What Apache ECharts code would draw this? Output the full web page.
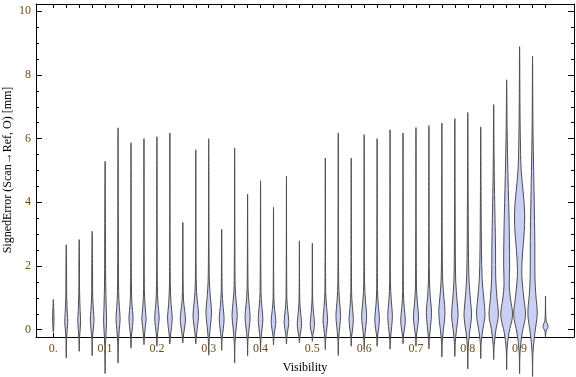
<!DOCTYPE html>
<html>
<head>
<meta charset="utf-8">
<script src="https://cdn.jsdelivr.net/npm/echarts@6/dist/echarts.min.js"></script>
<style>html,body{margin:0;padding:0;background:#fff}#c{width:576px;height:377px}</style>
</head>
<body>
<div id="c"></div>
<script>
// ---- data ----
var positions = [0, 0.025, 0.05, 0.075, 0.1, 0.125, 0.15, 0.175, 0.2, 0.225, 0.25, 0.275, 0.3, 0.325, 0.35, 0.375, 0.4, 0.425, 0.45, 0.475, 0.5, 0.525, 0.55, 0.575, 0.6, 0.625, 0.65, 0.675, 0.7, 0.725, 0.75, 0.775, 0.8, 0.825, 0.85, 0.875, 0.9, 0.925, 0.95];
var minVals = [-0.08, -0.89, -0.68, -0.82, -1.38, -1.05, -0.58, -0.47, -0.52, -0.45, -0.42, -0.45, -0.8, -0.65, -1.05, -0.82, -0.68, -0.48, -0.45, -0.42, -0.37, -0.63, -0.81, -0.52, -0.63, -0.52, -0.61, -0.44, -0.52, -0.6, -0.86, -0.84, -1.23, -0.91, -0.94, -1.26, -1.38, -1.47, -0.23];
var maxVals = [0.95, 2.67, 2.83, 3.09, 5.29, 6.34, 5.87, 6.0, 6.06, 6.18, 3.37, 5.65, 6.0, 3.16, 5.71, 4.26, 4.68, 3.85, 4.82, 2.79, 2.72, 5.39, 6.18, 5.39, 6.13, 6.0, 6.28, 6.18, 6.35, 6.41, 6.49, 6.63, 6.82, 6.37, 7.07, 7.85, 8.89, 8.59, 1.05];
// density profiles: [value, relative density] pairs
var bodies = [
  [[0.1,0.5],[0.4,0.7],[0.7,0.4]],
  [[-0.3,0.3],[0,1.0],[0.25,1.6],[0.5,1.2],[1.0,0.5],[2.0,0.3]],
  [[-0.3,0.3],[0,1.0],[0.3,1.5],[0.6,1.0],[1.2,0.4],[2.2,0.3]],
  [[-0.3,0.3],[0,1.2],[0.3,2.0],[0.6,1.4],[1.0,0.6],[2.0,0.4]],
  [[-0.5,0.4],[0,1.2],[0.3,1.6],[0.7,1.2],[1.5,0.6],[3,0.4]],
  [[-0.4,0.4],[0,1.3],[0.35,2.2],[0.7,1.4],[1.2,0.6],[3,0.3]],
  [[-0.2,0.5],[0.1,1.6],[0.4,2.2],[0.8,1.0],[1.5,0.4]],
  [[-0.2,0.5],[0.1,1.5],[0.35,2.3],[0.7,1.3],[1.3,0.4]],
  [[-0.2,0.5],[0.1,1.6],[0.4,2.4],[0.8,1.2],[1.4,0.4]],
  [[-0.2,0.6],[0.1,1.8],[0.4,2.5],[0.8,1.3],[1.5,0.4]],
  [[-0.2,0.6],[0.05,1.8],[0.3,2.8],[0.6,2.0],[0.9,0.8],[1.5,0.3]],
  [[-0.2,0.6],[0.1,1.8],[0.45,3.0],[0.8,2.0],[1.2,0.8],[2,0.3]],
  [[-0.3,0.5],[0.1,1.7],[0.55,3.0],[1.0,1.8],[1.5,0.7],[2.5,0.3]],
  [[-0.3,0.4],[0.05,1.8],[0.35,2.6],[0.7,1.6],[1.2,0.5]],
  [[-0.4,0.4],[0.05,1.6],[0.45,2.8],[0.9,1.6],[1.4,0.5]],
  [[-0.3,0.4],[0.05,1.7],[0.4,2.7],[0.8,1.6],[1.3,0.5]],
  [[-0.3,0.4],[0.05,1.7],[0.35,2.5],[0.7,1.5],[1.2,0.5]],
  [[-0.2,0.5],[0.05,1.8],[0.28,2.5],[0.6,1.4],[1.0,0.4]],
  [[-0.2,0.5],[0.05,1.8],[0.25,2.5],[0.6,1.4],[1.0,0.4]],
  [[-0.2,0.6],[0.0,1.8],[0.2,2.3],[0.5,1.4],[0.9,0.4]],
  [[-0.15,0.6],[0.0,1.7],[0.2,2.3],[0.5,1.4],[0.9,0.4]],
  [[-0.3,0.4],[0.05,1.6],[0.3,2.5],[0.7,1.4],[1.2,0.4]],
  [[-0.3,0.4],[0.1,1.6],[0.45,2.5],[0.9,1.3],[1.5,0.4]],
  [[-0.2,0.5],[0.05,1.6],[0.35,2.3],[0.7,1.3],[1.2,0.4]],
  [[-0.3,0.4],[0.1,1.8],[0.45,2.7],[0.9,1.4],[1.5,0.4]],
  [[-0.2,0.5],[0.05,1.7],[0.35,2.5],[0.75,1.3],[1.3,0.4]],
  [[-0.3,0.4],[0.1,1.7],[0.45,2.5],[0.9,1.3],[1.5,0.4]],
  [[-0.2,0.5],[0.05,1.7],[0.3,2.5],[0.7,1.3],[1.2,0.4]],
  [[-0.2,0.5],[0.1,1.8],[0.4,2.8],[0.85,1.5],[1.4,0.5]],
  [[-0.3,0.4],[0.1,1.7],[0.55,2.8],[1.0,1.5],[1.6,0.5],[2.5,0.3]],
  [[-0.4,0.4],[0.0,1.6],[0.3,2.8],[0.6,3.3],[1.0,2.2],[1.5,0.9],[2.5,0.4]],
  [[-0.4,0.5],[0.0,1.8],[0.45,3.5],[0.9,2.4],[1.5,1.0],[2.5,0.5],[4,0.3]],
  [[-0.6,0.4],[-0.1,1.8],[0.4,4.0],[0.9,3.0],[1.5,1.4],[2.5,0.7],[4,0.4]],
  [[-0.4,0.5],[0.0,2.2],[0.45,4.5],[1.0,3.2],[1.6,1.5],[2.5,0.8],[4,0.4]],
  [[-0.5,0.5],[0.0,2.4],[0.45,5.0],[1.0,3.5],[1.6,2.2],[2.5,2.0],[3.5,1.4],[4.5,0.8],[5.5,0.4]],
  [[-0.6,0.5],[-0.1,2.5],[0.45,6.3],[1.0,4.0],[1.4,2.8],[2.0,3.2],[2.8,3.0],[3.6,2.5],[4.4,1.8],[5.3,1.1],[6.3,0.5]],
  [[-0.7,0.5],[-0.1,2.8],[0.45,6.3],[1.0,4.5],[1.5,2.8],[1.9,2.3],[2.5,3.4],[3.0,4.8],[3.6,5.5],[4.2,4.2],[5.0,1.7],[6.0,0.8],[7.0,0.4]],
  [[-0.7,0.5],[-0.1,2.5],[0.5,5.0],[1.1,3.5],[1.6,2.6],[2.8,2.4],[4.0,1.8],[5.3,1.0],[6.5,0.4]],
  [[-0.05,0.6],[0.1,2.7],[0.3,0.6]]
];
var xLabelValues = [0, 0.1, 0.2, 0.3, 0.4, 0.5, 0.6, 0.7, 0.8, 0.9];
var yMajorTicks = [0, 2, 4, 6, 8, 10];
var yMinorTicks = [0.5, 1, 1.5, 2.5, 3, 3.5, 4.5, 5, 5.5, 6.5, 7, 7.5, 8.5, 9, 9.5];

// ---- style ----
var X_MIN = -0.0334, X_MAX = 1.005, Y_MIN = -0.23, Y_MAX = 10.23;
var WIDTH_SCALE = 0.0018; // visibility units per density unit
var FONT = '"Liberation Serif", "Times New Roman", serif';
var TICK_COLOR = '#6e4c18';

var chart = echarts.init(document.getElementById('c'), null, {renderer: 'canvas'});

function frameX(pos, showLabels) {
  return {
    type: 'value', position: pos, min: X_MIN, max: X_MAX,
    splitLine: {show: false},
    axisLine: {show: true, onZero: false, lineStyle: {color: '#000', width: 1}},
    axisTick: {show: true, inside: true, length: 4, customValues: positions, lineStyle: {color: '#000'}},
    axisLabel: {show: showLabels, customValues: xLabelValues, margin: 6, fontFamily: FONT, fontSize: 12, color: TICK_COLOR,
      formatter: function (v) { return Math.abs(v) < 1e-9 ? '0.' : v.toFixed(1); }}
  };
}
function frameY(pos, major, showLabels, showLine) {
  return {
    type: 'value', position: pos, min: Y_MIN, max: Y_MAX, offset: 0,
    splitLine: {show: false},
    axisLine: {show: showLine, onZero: false, lineStyle: {color: '#000', width: 1}},
    axisTick: {show: true, inside: true, length: major ? 6 : 3, customValues: major ? yMajorTicks : yMinorTicks, lineStyle: {color: '#000'}},
    axisLabel: {show: showLabels, customValues: yMajorTicks, margin: 5, fontFamily: FONT, fontSize: 12, color: TICK_COLOR,
      formatter: function (v) { return String(Math.round(v)); }}
  };
}

var seriesData = positions.map(function (p, i) { return [p, minVals[i], maxVals[i], i]; });

chart.setOption({
  animation: false,
  grid: {left: 36, right: 2, top: 4, bottom: 40, containLabel: false},
  xAxis: [frameX('bottom', true), frameX('top', false)],
  yAxis: [frameY('left', true, true, true), frameY('left', false, false, false),
          frameY('right', true, false, true), frameY('right', false, false, false)],
  graphic: [
    {type: 'text', x: 305, y: 368, style: {text: 'Visibility', font: '12px ' + FONT, fill: '#000', textAlign: 'center', textVerticalAlign: 'middle'}},
    {type: 'text', x: 8, y: 170, rotation: Math.PI / 2, style: {text: 'SignedError (Scan\u2192Ref, O) [mm]', font: '12px ' + FONT, fill: '#000', textAlign: 'center', textVerticalAlign: 'middle'}}
  ],
  series: [{
    type: 'custom', xAxisIndex: 0, yAxisIndex: 0, clip: false,
    data: seriesData,
    renderItem: function (params, api) {
      var i = api.value(3);
      var p = api.value(0), lo = api.value(1), hi = api.value(2);
      var body = bodies[i];
      var right = [api.coord([p, lo])];
      var left = [];
      for (var k = 0; k < body.length; k++) {
        var y = body[k][0], w = body[k][1] * WIDTH_SCALE;
        if (y <= lo || y >= hi) continue;
        right.push(api.coord([p + w, y]));
        left.push(api.coord([p - w, y]));
      }
      right.push(api.coord([p, hi]));
      var pts = right.concat(left.reverse());
      return {
        type: 'polygon',
        shape: {points: pts, smooth: 0.35},
        style: {fill: '#c9cff5', stroke: '#4d4d4d', lineWidth: 1}
      };
    }
  }]
});
</script>
</body>
</html>
